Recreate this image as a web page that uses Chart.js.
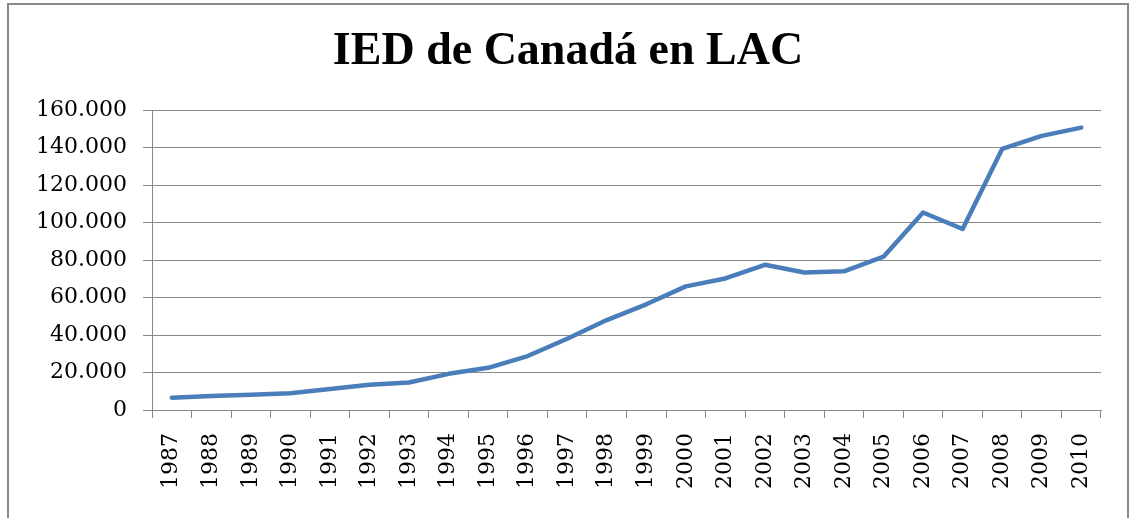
<!DOCTYPE html>
<html lang="es">
<head>
<meta charset="utf-8">
<title>IED de Canadá en LAC</title>
<script src="https://cdn.jsdelivr.net/npm/chart.js@4"></script>
<style>
    html, body { margin: 0; padding: 0; background: #fff; }
    .frame {
        position: absolute;
        left: 7px;
        top: 3px;
        width: 1122px;
        height: 530px;
        border: 2px solid #898989;
        box-sizing: border-box;
    }
    .frame canvas { display: block; }
</style>
</head>
<body>
<div class="frame">
    <canvas id="iedChart" width="1118" height="526"></canvas>
</div>
<script>
// Datos (millones)
const years = ['1987', '1988', '1989', '1990', '1991', '1992', '1993', '1994', '1995', '1996', '1997', '1998',
               '1999', '2000', '2001', '2002', '2003', '2004', '2005', '2006', '2007', '2008', '2009', '2010'];
const iedValues = [6600, 7500, 8200, 8900, 11200, 13500, 14700, 19300, 22500, 28800, 38000, 48000,
                   56400, 66000, 70200, 77500, 73400, 74000, 81800, 105400, 96600, 139300, 146300, 150700];
const yTicks = [0, 20000, 40000, 60000, 80000, 100000, 120000, 140000, 160000];

const chartTitle = 'IED de Canadá en LAC';

document.addEventListener('DOMContentLoaded', function() {
    const ctx = document.getElementById('iedChart').getContext('2d');

    new Chart(ctx, {
        type: 'line',
        data: {
            labels: years,
            datasets: [{
                label: 'IED',
                data: iedValues,
                borderColor: '#4a7ebb',
                borderWidth: 4.5,
                borderCapStyle: 'round',
                borderJoinStyle: 'round',
                pointRadius: 0,
                tension: 0,
                fill: false
            }]
        },
        options: {
            responsive: false,
            animation: false,
            layout: {
                // padding gauche = droite pour centrer le titre
                padding: { left: 26, right: 26, top: 0, bottom: 0 }
            },
            plugins: {
                legend: { display: false },
                tooltip: { enabled: false },
                title: {
                    display: true,
                    text: chartTitle,
                    color: '#000',
                    font: { family: '"Liberation Serif", serif', size: 46, weight: 'bold', lineHeight: 1.2 },
                    padding: { top: 20, bottom: 30 }
                }
            },
            scales: {
                x: {
                    offset: true,
                    afterFit: scale => { scale.height = 121; },
                    grid: {
                        offset: true,
                        drawOnChartArea: false,
                        drawTicks: true,
                        tickLength: 8,
                        color: '#898989'
                    },
                    border: { color: '#898989', width: 1 },
                    ticks: {
                        autoSkip: false,
                        minRotation: 90,
                        maxRotation: 90,
                        padding: 15,
                        color: '#000',
                        font: { family: '"DejaVu Serif", serif', size: 22 }
                    }
                },
                y: {
                    min: 0,
                    max: 160000,
                    afterFit: scale => { scale.width = 117; },
                    afterBuildTicks: scale => {
                        scale.ticks = yTicks.map(v => ({ value: v }));
                    },
                    grid: {
                        color: '#898989',
                        tickLength: 9
                    },
                    border: { color: '#898989', width: 1 },
                    ticks: {
                        padding: 16,
                        color: '#000',
                        font: { family: '"DejaVu Serif", serif', size: 22 },
                        callback: value => formatNumber(value)
                    }
                }
            }
        }
    });
});

// Formato con punto de miles
function formatNumber(number) {
    return new Intl.NumberFormat('de-DE').format(number);
}
</script>
</body>
</html>
